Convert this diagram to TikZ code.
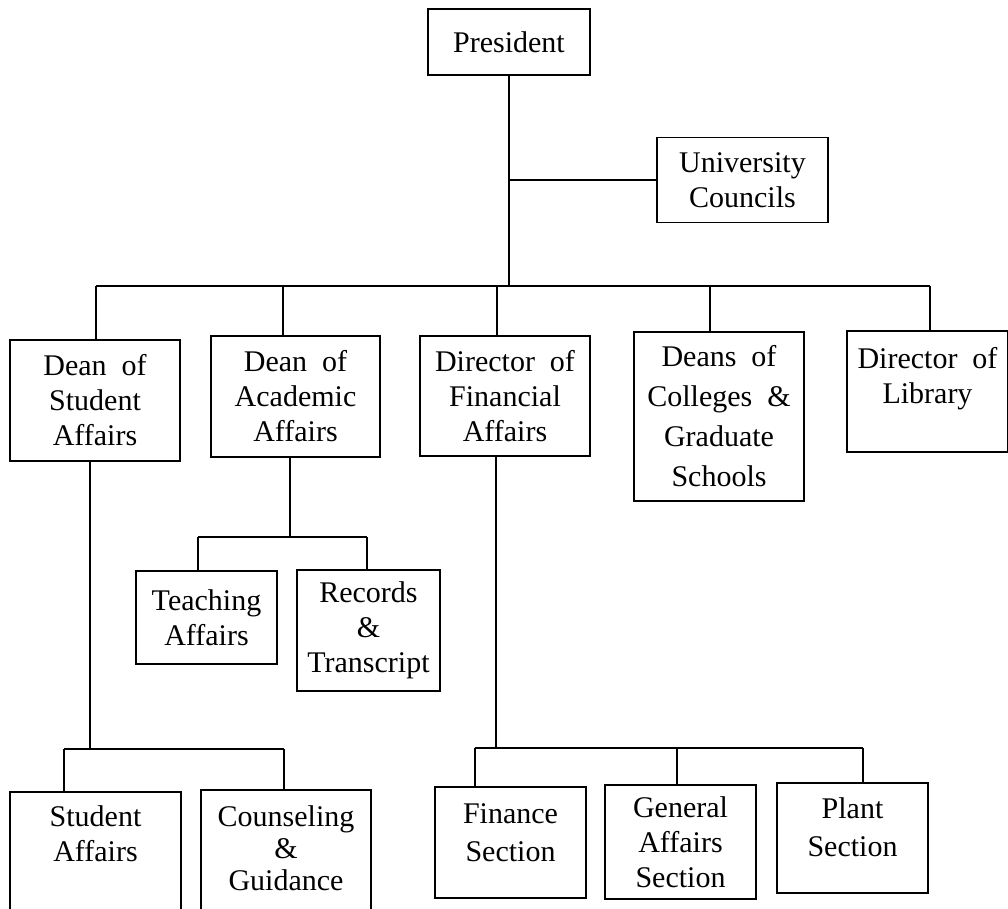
\documentclass[tikz,border=0pt]{standalone}
\usepackage{fontspec}
\setmainfont{Liberation Serif}
\usetikzlibrary{positioning}

\begin{document}
\begin{tikzpicture}[x=0.5pt,y=-0.5pt,line width=0.9pt,
  unit/.style={draw, align=center, inner sep=2pt, font=\fontsize{15}{17.5}\selectfont}]
\useasboundingbox (0,0) rectangle (1008,909);
% president and councils
\node[unit, minimum width=81pt, minimum height=33pt] (pres) at (509,42) {President};
\node[unit, minimum width=85.5pt, minimum height=42.5pt] (uc) at (742.5,180) {University\\Councils};
\coordinate (bus) at (509,286);
\draw (pres.south) -- (bus);
\draw (pres.south |- uc.west) -- (uc.west);
% second level
\node[unit, minimum width=85pt, minimum height=60.5pt] (dsa) at (95,400.5) {Dean\ \ of\\Student\\Affairs};
\node[unit, minimum width=84.5pt, minimum height=60.5pt] (daa) at (295.5,396.5) {Dean\ \ of\\Academic\\Affairs};
\node[unit, minimum width=85pt, minimum height=60pt] (dfa) at (505,396) {Director\ \ of\\Financial\\Affairs};
\node[unit, minimum width=85pt, minimum height=84.5pt, font=\fontsize{15}{20}\selectfont] (deans) at (719,416.5) {Deans\ \ of\\Colleges\ \ \&\\Graduate\\Schools};
\node[unit, minimum width=80.5pt, minimum height=60.5pt, text depth=16pt] (lib) at (927.5,391.5) {Director\ \ of\\Library};
\coordinate (t1) at (96,286);
\coordinate (t2) at (283,286);
\coordinate (t3) at (497,286);
\coordinate (t4) at (710,286);
\coordinate (t5) at (930,286);
\draw (t1) -- (t5);
\draw (t1) -- (t1 |- dsa.north);
\draw (t2) -- (t2 |- daa.north);
\draw (t3) -- (t3 |- dfa.north);
\draw (t4) -- (t4 |- deans.north);
\draw (t5) -- (t5 |- lib.north);
% academic affairs
\node[unit, minimum width=70.5pt, minimum height=46.5pt] (teach) at (206.5,617.5) {Teaching\\Affairs};
\node[unit, minimum width=71.5pt, minimum height=60.5pt] (rec) at (368.5,630.5) {Records\\\&\\Transcript};
\coordinate (a0) at (290,537);
\coordinate (a1) at (198,537);
\coordinate (a2) at (367,537);
\draw (a0 |- daa.south) -- (a0);
\draw (a1) -- (a2);
\draw (a1) -- (a1 |- teach.north);
\draw (a2) -- (a2 |- rec.north);
% student affairs
\node[unit, anchor=north, minimum width=85.5pt, inner ysep=7pt, text depth=60pt] (stud) at (95.5,791) {Student\\Affairs};
\node[unit, anchor=north, minimum width=85pt, inner ysep=8pt, text depth=60pt, font=\fontsize{15}{16}\selectfont] (couns) at (286,789) {Counseling\\\&\\Guidance};
\coordinate (s0) at (90,749);
\coordinate (s1) at (64,749);
\coordinate (s2) at (284,749);
\draw (s0 |- dsa.south) -- (s0);
\draw (s1) -- (s2);
\draw (s1) -- (s1 |- stud.north);
\draw (s2) -- (s2 |- couns.north);
% financial affairs
\node[unit, minimum width=75.5pt, minimum height=55.5pt, text depth=10pt, font=\fontsize{15}{19}\selectfont] (fin) at (510.5,842.5) {Finance\\Section};
\node[unit, minimum width=75.5pt, minimum height=57pt] (gen) at (680.5,842) {General\\Affairs\\Section};
\node[unit, minimum width=75.5pt, minimum height=55pt, text depth=11pt, font=\fontsize{15}{19}\selectfont] (plant) at (852.5,838) {Plant\\Section};
\coordinate (f0) at (496,748);
\coordinate (f1) at (475,748);
\coordinate (f2) at (677,748);
\coordinate (f3) at (863,748);
\draw (f0 |- dfa.south) -- (f0);
\draw (f1) -- (f3);
\draw (f1) -- (f1 |- fin.north);
\draw (f2) -- (f2 |- gen.north);
\draw (f3) -- (f3 |- plant.north);
\end{tikzpicture}
\end{document}
